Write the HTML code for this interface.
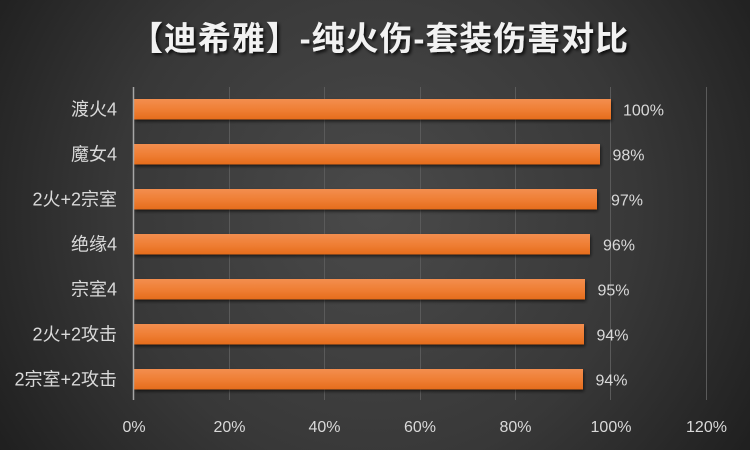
<!DOCTYPE html>
<html><head><meta charset="utf-8">
<style>
html,body{margin:0;padding:0;background:#2a2a2a;}
svg{display:block;}
</style></head>
<body>
<svg width="750" height="450" viewBox="0 0 750 450" xmlns="http://www.w3.org/2000/svg">
<defs>
<radialGradient id="bg" cx="375" cy="210" r="470" gradientUnits="userSpaceOnUse">
<stop offset="0" stop-color="#4a4a4a"/>
<stop offset="0.55" stop-color="#383838"/>
<stop offset="1" stop-color="#1c1c1c"/>
</radialGradient>
<linearGradient id="bar" x1="0" y1="0" x2="0" y2="1">
<stop offset="0" stop-color="#f38e4f"/>
<stop offset="0.5" stop-color="#ef7f35"/>
<stop offset="1" stop-color="#e56c1c"/>
</linearGradient>
<filter id="sh" x="-10%" y="-30%" width="120%" height="180%">
<feGaussianBlur in="SourceAlpha" stdDeviation="1.5"/>
<feOffset dx="1" dy="2" result="b"/>
<feComponentTransfer><feFuncA type="linear" slope="0.6"/></feComponentTransfer>
<feMerge><feMergeNode/><feMergeNode in="SourceGraphic"/></feMerge>
</filter>
<filter id="tsh" x="-5%" y="-30%" width="110%" height="180%">
<feGaussianBlur in="SourceAlpha" stdDeviation="1.5"/>
<feOffset dx="2" dy="2" result="b"/>
<feComponentTransfer><feFuncA type="linear" slope="0.8"/></feComponentTransfer>
<feMerge><feMergeNode/><feMergeNode in="SourceGraphic"/></feMerge>
</filter>
</defs>
<rect width="750" height="450" fill="url(#bg)"/>

<text x="130" y="50" textLength="498" lengthAdjust="spacing" font-family="'Liberation Sans','Noto Sans CJK SC',sans-serif" font-size="33" font-weight="bold" fill="#f2f2f2" filter="url(#tsh)">【迪希雅】-纯火伤-套装伤害对比</text>

<g stroke="#5a5a5a" stroke-width="1">
<line x1="229.5" y1="87" x2="229.5" y2="400"/>
<line x1="324.5" y1="87" x2="324.5" y2="400"/>
<line x1="420.5" y1="87" x2="420.5" y2="400"/>
<line x1="515.5" y1="87" x2="515.5" y2="400"/>
<line x1="610.5" y1="87" x2="610.5" y2="400"/>
<line x1="706.5" y1="87" x2="706.5" y2="400"/>
</g>

<g fill="url(#bar)" filter="url(#sh)">
<rect x="134" y="99" width="477" height="20.5"/>
<rect x="134" y="144" width="466" height="20.5"/>
<rect x="134" y="189" width="463" height="20.5"/>
<rect x="134" y="234" width="456" height="20.5"/>
<rect x="134" y="279" width="451" height="20.5"/>
<rect x="134" y="324" width="450" height="20.5"/>
<rect x="134" y="369" width="449" height="20.5"/>
</g>
<line x1="133.5" y1="87" x2="133.5" y2="400" stroke="#a6a6a6" stroke-width="1.5"/>

<g font-family="'Liberation Sans','Noto Sans CJK SC',sans-serif" font-size="18" fill="#d9d9d9" text-anchor="end">
<text x="117" y="115.5">渡火4</text>
<text x="117" y="160.5">魔女4</text>
<text x="117" y="205.5">2火+2宗室</text>
<text x="117" y="250.5">绝缘4</text>
<text x="117" y="295.5">宗室4</text>
<text x="117" y="340.5">2火+2攻击</text>
<text x="117" y="385.5">2宗室+2攻击</text>
</g>

<g font-family="'Liberation Sans',sans-serif" font-size="16" fill="#d9d9d9">
<text x="623" y="115.5">100%</text>
<text x="612.5" y="160.5">98%</text>
<text x="611" y="205.5">97%</text>
<text x="603" y="250.5">96%</text>
<text x="597.5" y="295.5">95%</text>
<text x="596.5" y="340.5">94%</text>
<text x="595.5" y="385.5">94%</text>
</g>

<g font-family="'Liberation Sans',sans-serif" font-size="16" fill="#d9d9d9" text-anchor="middle">
<text x="134" y="432">0%</text>
<text x="229.5" y="432">20%</text>
<text x="324.5" y="432">40%</text>
<text x="420" y="432">60%</text>
<text x="515.5" y="432">80%</text>
<text x="611" y="432">100%</text>
<text x="706.5" y="432">120%</text>
</g>
</svg>
</body></html>
